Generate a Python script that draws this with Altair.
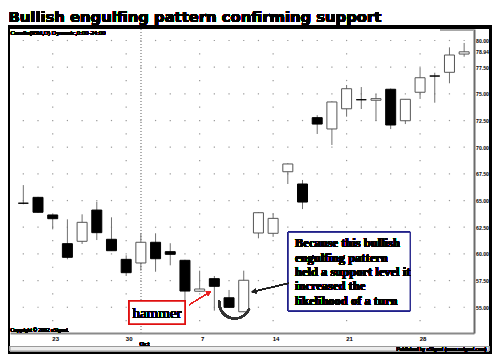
import altair as alt
import pandas as pd

# ---------------- data ----------------
dates = ["Sep 19", "Sep 20", "Sep 23", "Sep 24", "Sep 25", "Sep 26", "Sep 27", "Sep 30",
         "Oct 1", "Oct 2", "Oct 3", "Oct 4", "Oct 7", "Oct 8", "Oct 9", "Oct 10", "Oct 11",
         "Oct 14", "Oct 15", "Oct 16", "Oct 17", "Oct 18", "Oct 21", "Oct 22", "Oct 23",
         "Oct 24", "Oct 25", "Oct 28", "Oct 29", "Oct 30", "Oct 31"]
opens = [64.75, 65.30, 63.65, 60.96, 61.18, 64.11, 61.37, 59.49,
         59.15, 61.09, 60.21, 59.40, 56.50, 57.68, 55.89, 54.58, 61.96,
         61.93, 67.70, 66.55, 72.77, 71.71, 73.60, 74.45, 74.40,
         75.43, 72.48, 75.15, 76.67, 77.02, 78.73]
highs = [66.45, 65.35, 63.70, 63.24, 63.71, 64.89, 63.43, 59.87,
         61.93, 61.93, 61.00, 59.45, 58.43, 57.93, 56.62, 58.43, 63.90,
         63.80, 68.50, 66.93, 73.00, 74.30, 75.83, 75.64, 74.99,
         75.50, 74.50, 77.45, 76.98, 79.36, 79.77]
lows = [64.65, 63.85, 62.30, 59.50, 60.93, 61.30, 60.30, 57.93,
        58.43, 58.33, 58.93, 55.68, 56.45, 54.68, 54.95, 54.55, 61.46,
        61.60, 66.55, 64.20, 71.24, 70.21, 72.86, 73.58, 72.46,
        71.70, 72.17, 74.52, 74.17, 75.99, 78.48]
closes = [64.75, 63.90, 63.30, 59.68, 62.96, 61.99, 60.30, 58.24,
          61.09, 59.55, 59.96, 56.52, 56.71, 56.96, 54.99, 57.53, 63.86,
          63.33, 68.43, 64.86, 72.17, 74.24, 75.48, 74.45, 74.55,
          72.08, 74.49, 76.51, 76.67, 78.64, 78.94]

price_ticks = [55.0, 57.5, 60.0, 62.5, 65.0, 67.5, 70.0, 72.5, 75.0, 77.5, 80.0]
half_levels = [53.75, 56.25, 58.75, 61.25, 63.75, 66.25, 68.75, 71.25, 73.75, 76.25, 78.75]
last_price = 78.94
week_idx = [2, 7, 12, 17, 22, 27]
week_labels = ["23", "30", "7", "14", "21", "28"]
month_start_idx = 8
month_label = "Oct"

title_text = "Bullish engulfing pattern confirming support"
study_text = "Candle(IBM,D) Dynamic,0:00-24:00"
copyright_text = "Copyright \u00a9 2002 eSignal."
publisher_text = "Published by eSignal (www.esignal.com)"
hammer_text = "hammer"
note_lines = ["Because this bullish", "engulfing pattern", "held a support level it",
              "increased the", "likelihood of a turn"]

# ---------------- tables ----------------
idx = list(range(len(dates)))
df = pd.DataFrame({"i": idx, "date": dates, "open": opens, "high": highs,
                   "low": lows, "close": closes})
df["fill"] = ["white" if c > o else "black" for o, c in zip(opens, closes)]
df["stroke"] = ["#555555" if c > o else "black" for o, c in zip(opens, closes)]

dots = pd.DataFrame(
    [{"i": i, "p": p} for p in price_ticks for i in idx] +
    [{"i": i, "p": p} for p in half_levels for i in week_idx]
)

# ---------------- scales / axes ----------------
xs = alt.Scale(domain=[-0.566, 30.33], nice=False, zero=False)
ys = alt.Scale(domain=[52.587, 81.078], nice=False, zero=False)

label_expr = " : ".join(
    [f"datum.value == {v} ? '{l}'" for v, l in zip(week_idx, week_labels)]) + " : ''"

SMALL = "Liberation Sans, Arial, sans-serif"

xaxis = alt.Axis(values=week_idx, labelExpr=label_expr, title=None, grid=False,
                 ticks=False, domainColor="#8a8a8a", domainWidth=2,
                 labelFont=SMALL, labelFontSize=6, labelFontWeight="bold",
                 labelColor="black", labelPadding=2, labelOffset=2.5, labelOverlap=False)
yaxis = alt.Axis(orient="right", values=price_ticks + [last_price], format=".2f",
                 title=None, grid=False, ticks=False, domainColor="#6a6a6a",
                 domainWidth=2, labelFont=SMALL, labelFontSize=5.2,
                 labelFontWeight="bold", labelColor="black", labelPadding=1.5,
                 labelOverlap=False)


def X(field=None, datum=None):
    if datum is not None:
        return alt.XDatum(datum, scale=xs, axis=xaxis, type="quantitative")
    return alt.X(field, type="quantitative", scale=xs, axis=xaxis)


def Y(field=None, datum=None):
    if datum is not None:
        return alt.YDatum(datum, scale=ys, axis=yaxis, type="quantitative")
    return alt.Y(field, type="quantitative", scale=ys, axis=yaxis)


base = alt.Chart(df)

# frame and bands (decoration, pixel positions relative to the plot area)
frame = alt.Chart(df).mark_rect(fill=None, stroke="black", strokeWidth=3).encode(
    x=alt.value(-1.5), x2=alt.value(480.5), y=alt.value(-2), y2=alt.value(323.5))
bottom_band = alt.Chart(df).mark_rect(fill="#ececec", stroke="#9a9a9a", strokeWidth=1).encode(
    x=alt.value(0), x2=alt.value(479), y=alt.value(317.5), y2=alt.value(322))
top_band = alt.Chart(df).mark_rect(fill="#a8a8a8").encode(
    x=alt.value(430), x2=alt.value(464), y=alt.value(0), y2=alt.value(2))

grid = alt.Chart(dots).mark_square(size=1.5, color="#9a9a9a", opacity=1).encode(
    x=X("i"), y=Y("p"))
month_line = alt.Chart(df).mark_rule(color="#b0b0b0", strokeDash=[1, 2]).encode(
    x=X(datum=month_start_idx))

wicks = base.mark_rule(color="#707070", strokeWidth=1).encode(
    x=X("i"), y=Y("low"), y2="high")
bodies = base.mark_bar(size=10, strokeWidth=1).encode(
    x=X("i"), y=Y("open"), y2="close",
    fill=alt.Fill("fill:N", scale=None), stroke=alt.Stroke("stroke:N", scale=None))

# annotations (in data units)
hammer_box = alt.Chart(df).mark_rect(fill="white", stroke="#e01010", strokeWidth=1.5).encode(
    x=X(datum=7.2), x2=alt.X2Datum(11.0), y=Y(datum=55.59), y2=alt.Y2Datum(53.43))
hammer_lbl = alt.Chart(df).mark_text(text=hammer_text, font="Liberation Serif", fontSize=15,
                                     color="black").encode(
    x=X(datum=9.1), y=Y(datum=54.45))
red_line = alt.Chart(df).mark_rule(color="#e82020", strokeWidth=1).encode(
    x=X(datum=11.3), x2=alt.X2Datum(12.6), y=Y(datum=55.24), y2=alt.Y2Datum(56.35))
red_head = alt.Chart(df).mark_point(shape="triangle-up", filled=True, size=22,
                                    color="#e82020", angle=59, opacity=1).encode(
    x=X(datum=12.62), y=Y(datum=56.36))

arc = alt.Chart(df).mark_arc(theta=1.95, theta2=4.85, innerRadius=14.5, outerRadius=16.5,
                             color="#333333").encode(
    x=X(datum=14.39), y=Y(datum=55.40))

note_box = alt.Chart(df).mark_rect(fill="white", stroke="#22228a", strokeWidth=1).encode(
    x=X(datum=18.03), x2=alt.X2Datum(26.32), y=Y(datum=62.02), y2=alt.Y2Datum(54.68))
note_txt = alt.Chart(df).mark_text(text=note_lines, font="Liberation Serif", fontSize=12.5,
                                   fontWeight="bold", align="left", baseline="top",
                                   lineHeight=14.3, color="black").encode(
    x=X(datum=18.49), y=Y(datum=61.55))
blk_line = alt.Chart(df).mark_rule(color="#202020", strokeWidth=1).encode(
    x=X(datum=18.03), x2=alt.X2Datum(15.75), y=Y(datum=57.24), y2=alt.Y2Datum(56.5))
blk_head = alt.Chart(df).mark_point(shape="triangle-up", filled=True, size=22,
                                    color="#202020", angle=257, opacity=1).encode(
    x=X(datum=15.68), y=Y(datum=56.48))

# texts
title = alt.Chart(df).mark_text(text=title_text, font="DejaVu Sans", fontSize=14.8,
                                fontWeight="bold", align="left", baseline="alphabetic",
                                color="black").encode(x=alt.value(-1.5), y=alt.value(-7))
study = alt.Chart(df).mark_text(text=study_text, font=SMALL, fontSize=6,
                                align="left", baseline="middle", color="black").encode(
    x=alt.value(0.5), y=alt.value(4))
copyright_ = alt.Chart(df).mark_text(text=copyright_text, font=SMALL, fontSize=5,
                                     align="left", baseline="middle", color="black").encode(
    x=alt.value(0.5), y=alt.value(300.5))
publisher = alt.Chart(df).mark_text(text=publisher_text, font=SMALL, fontSize=5,
                                    align="right", baseline="middle", color="black").encode(
    x=alt.value(476.5), y=alt.value(319.8))
month = alt.Chart(df).mark_text(text=month_label, font=SMALL, fontSize=6,
                                fontWeight="bold", baseline="middle", color="black").encode(
    x=X(datum=month_start_idx + 0.25), y=alt.value(314.5))

chart = alt.layer(
    frame, bottom_band, top_band, grid, month_line, wicks, bodies,
    hammer_box, hammer_lbl, red_line, red_head, arc,
    note_box, note_txt, blk_line, blk_head,
    title, study, copyright_, publisher, month
).properties(
    width=464, height=304, autosize="none",
    padding={"left": 2, "top": 21, "right": 18, "bottom": 21},
    background="white"
).configure_view(stroke=None)

chart.save("out.html", embed_options={"renderer": "svg", "actions": False})
